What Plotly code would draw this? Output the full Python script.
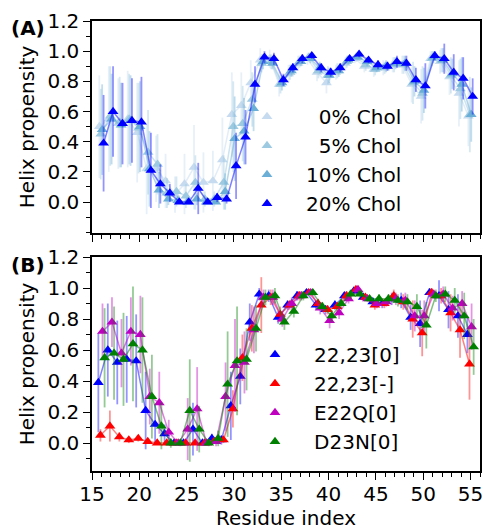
import numpy as np
import plotly.graph_objects as go

# ---------------- data ----------------
residues = list(range(16, 56))

# Panel A: cholesterol series
chol_names = ["0% Chol", "5% Chol", "10% Chol", "20% Chol"]
v0 = [0.50,0.55,0.52,0.55,0.46,0.22,0.22,0.14,0.05,0.12,0.23,0.13,0.14,0.28,0.58,0.64,0.79,0.94,0.95,0.78,
      0.85,0.92,0.95,0.86,0.79,0.86,0.92,0.95,0.90,0.88,0.89,0.91,0.91,0.78,0.70,0.95,0.93,0.83,0.72,0.57]
e0 = [0.34,0.35,0.30,0.32,0.33,0.30,0.22,0.18,0.12,0.20,0.28,0.20,0.20,0.28,0.28,0.22,0.15,0.08,0.06,0.08,
      0.06,0.05,0.04,0.06,0.07,0.05,0.04,0.03,0.04,0.05,0.05,0.05,0.06,0.12,0.18,0.05,0.08,0.12,0.22,0.20]
v5 = [0.45,0.57,0.53,0.55,0.49,0.33,0.25,0.06,0.07,0.04,0.13,0.02,0.02,0.13,0.50,0.52,0.68,0.92,0.93,0.78,
      0.86,0.93,0.96,0.87,0.84,0.87,0.93,0.96,0.91,0.88,0.89,0.91,0.91,0.79,0.72,0.95,0.94,0.84,0.75,0.58]
e5 = [0.30,0.33,0.30,0.30,0.30,0.28,0.20,0.10,0.10,0.08,0.18,0.05,0.05,0.18,0.30,0.25,0.18,0.06,0.05,0.06,
      0.05,0.04,0.03,0.05,0.06,0.05,0.04,0.03,0.04,0.04,0.04,0.05,0.06,0.14,0.18,0.05,0.08,0.12,0.20,0.25]
v10 = [0.48,0.55,0.51,0.54,0.50,0.22,0.08,0.02,0.01,0.00,0.02,0.00,0.00,0.07,0.42,0.47,0.62,0.93,0.92,0.79,
       0.87,0.93,0.95,0.89,0.84,0.87,0.94,0.96,0.93,0.89,0.90,0.92,0.92,0.80,0.74,0.96,0.94,0.85,0.78,0.58]
e10 = [0.30,0.30,0.28,0.30,0.30,0.25,0.12,0.04,0.02,0.01,0.04,0.01,0.01,0.12,0.28,0.22,0.15,0.05,0.04,0.05,
       0.04,0.03,0.03,0.04,0.05,0.04,0.03,0.02,0.03,0.03,0.04,0.04,0.05,0.10,0.15,0.04,0.08,0.10,0.18,0.18]
v20 = [0.39,0.60,0.52,0.54,0.53,0.21,0.12,0.06,0.00,0.00,0.09,0.00,0.03,0.02,0.24,0.43,0.78,0.96,0.95,0.81,
       0.89,0.95,0.97,0.89,0.86,0.89,0.95,0.98,0.94,0.91,0.90,0.93,0.92,0.81,0.77,0.97,0.95,0.86,0.82,0.70]
e20 = [0.32,0.30,0.27,0.28,0.30,0.25,0.13,0.06,0.01,0.01,0.17,0.01,0.03,0.03,0.22,0.18,0.12,0.04,0.04,0.04,
       0.03,0.03,0.02,0.03,0.03,0.03,0.02,0.02,0.02,0.03,0.03,0.04,0.05,0.08,0.15,0.03,0.10,0.12,0.14,0.12]

# Panel B: protonation / mutant series
mut_names = ["22,23[0]", "22,23[-]", "E22Q[0]", "D23N[0]"]
vb, eb = v20, e20
vr = [0.05,0.11,0.04,0.02,0.03,0.01,0.00,0.00,0.00,0.00,0.00,0.00,0.01,0.02,0.22,0.55,0.74,0.89,0.94,0.83,
      0.89,0.95,0.97,0.90,0.86,0.88,0.95,0.99,0.94,0.89,0.90,0.95,0.91,0.80,0.71,0.97,0.95,0.84,0.73,0.51]
er = [0.04,0.10,0.03,0.02,0.02,0.01,0.01,0.01,0.01,0.01,0.01,0.01,0.01,0.02,0.12,0.15,0.15,0.18,0.05,0.05,
      0.03,0.03,0.02,0.03,0.03,0.03,0.03,0.02,0.02,0.03,0.03,0.04,0.05,0.12,0.15,0.03,0.05,0.12,0.18,0.23]
vm = [0.72,0.78,0.58,0.72,0.70,0.30,0.26,0.07,0.00,0.09,0.22,0.00,0.01,0.30,0.50,0.52,0.73,0.94,0.94,0.80,
      0.90,0.95,0.97,0.87,0.79,0.84,0.93,0.99,0.93,0.90,0.91,0.93,0.92,0.82,0.82,0.96,0.96,0.87,0.90,0.75]
em = [0.18,0.16,0.22,0.22,0.25,0.18,0.20,0.08,0.01,0.20,0.27,0.01,0.03,0.22,0.30,0.20,0.15,0.05,0.05,0.05,
      0.04,0.03,0.02,0.04,0.05,0.04,0.03,0.02,0.02,0.03,0.03,0.04,0.05,0.10,0.10,0.03,0.05,0.08,0.08,0.15]
vg = [0.55,0.58,0.54,0.64,0.60,0.30,0.11,0.00,0.00,0.21,0.09,0.00,0.03,0.38,0.53,0.54,0.74,0.94,0.95,0.78,
      0.85,0.95,0.97,0.88,0.82,0.90,0.96,0.96,0.93,0.93,0.93,0.92,0.91,0.88,0.76,0.95,0.96,0.92,0.82,0.62]
eg = [0.32,0.30,0.30,0.37,0.34,0.27,0.15,0.03,0.02,0.33,0.15,0.02,0.05,0.34,0.35,0.20,0.15,0.05,0.05,0.05,
      0.04,0.03,0.02,0.03,0.04,0.03,0.03,0.02,0.02,0.03,0.03,0.04,0.05,0.08,0.15,0.04,0.05,0.08,0.15,0.18]

y_ticks = [0.0, 0.2, 0.4, 0.6, 0.8, 1.0, 1.2]
x_ticks = [15, 20, 25, 30, 35, 40, 45, 50, 55]

# ---------------- style ----------------
FONT = "DejaVu Sans"
FS = 20
chol_colors = [(198, 219, 239), (158, 202, 225), (107, 174, 214), (0, 0, 255)]
mut_colors = [(0, 0, 255), (255, 0, 0), (191, 0, 191), (0, 128, 0)]
offsA = [-0.225, -0.075, 0.075, 0.225]
offsB = [-0.33, -0.11, 0.11, 0.33]

def rgba(c, a):
    return "rgba(%d,%d,%d,%.2f)" % (c[0], c[1], c[2], a)

fig = go.Figure()
NB = "\u00a0"

def add_series(vals, errs, col, off, name, xa, ya, legend, group):
    xs = [r + off for r in residues]
    fig.add_trace(go.Scatter(
        x=xs, y=vals, mode="lines", xaxis=xa, yaxis=ya,
        line=dict(color=rgba(col, 0.5), width=1.5),
        error_y=dict(type="data", array=errs, visible=True, color=rgba(col, 0.42),
                     thickness=1.8, width=0),
        showlegend=False, hoverinfo="skip"))
    fig.add_trace(go.Scatter(
        x=xs, y=vals, mode="markers", xaxis=xa, yaxis=ya, name=name,
        marker=dict(symbol="triangle-up", size=9.5, color=rgba(col, 1.0),
                    line=dict(width=0)),
        legend=legend, legendgroup=group))

a_vals = [v0, v5, v10, v20]
a_errs = [e0, e5, e10, e20]
a_labels = [NB * 5 + chol_names[0], NB * 5 + chol_names[1], NB * 3 + chol_names[2], NB * 3 + chol_names[3]]
for i in range(4):
    add_series(a_vals[i], a_errs[i], chol_colors[i], offsA[i], a_labels[i], "x2", "y2", "legend", "a%d" % i)

b_vals = [vb, vr, vm, vg]
b_errs = [eb, er, em, eg]
for i in range(4):
    add_series(b_vals[i], b_errs[i], mut_colors[i], offsB[i], NB * 3 + mut_names[i], "x", "y", "legend2", "b%d" % i)

L, R, T, B = 92, 3, 21, 59
W, H = 483, 530
ph = H - T - B

def fy(py):
    return (H - B - py) / ph

def fx(px):
    return (px - L) / (W - L - R)

axis_common = dict(showline=True, linecolor="black", linewidth=1.5, mirror=True,
                   ticks="outside", ticklen=7, tickwidth=1.3, tickcolor="black",
                   showgrid=False, zeroline=False, automargin=False,
                   ticklabeloverflow="allow",
                   tickfont=dict(family=FONT, size=FS, color="black"))

xcommon = dict(axis_common, range=[15, 56], tickmode="array", tickvals=x_ticks,
               minor=dict(dtick=1, tick0=15, ticks="outside", ticklen=4, tickwidth=1, tickcolor="black"))
ycommon = dict(axis_common, tickmode="array", tickvals=y_ticks, tickformat=".1f",
               minor=dict(tickmode="array", tickvals=[-0.2, -0.1, 0.1, 0.3, 0.5, 0.7, 0.9, 1.1],
                          ticks="outside", ticklen=4, tickwidth=1, tickcolor="black"))

fig.update_layout(
    width=W, height=H, margin=dict(l=L, r=R, t=T, b=B),
    paper_bgcolor="white", plot_bgcolor="white",
    font=dict(family=FONT, size=FS, color="black"),
    xaxis=dict(xcommon, anchor="y", domain=[0, 1], ticklabelstandoff=-3,
               title=dict(text="Residue index", font=dict(family=FONT, size=FS), standoff=15)),
    xaxis2=dict(xcommon, anchor="y2", domain=[0, 1], matches="x", showticklabels=False),
    yaxis=dict(ycommon, anchor="x", domain=[0, fy(257)], range=[-0.18, 1.2],
               title=dict(text="Helix propensity", font=dict(family=FONT, size=FS), standoff=7)),
    yaxis2=dict(ycommon, anchor="x2", domain=[fy(233), 1], range=[-0.205, 1.2],
                title=dict(text="Helix propensity", font=dict(family=FONT, size=FS), standoff=7)),
    legend=dict(x=fx(247), y=fy(97), xanchor="left", yanchor="top",
                bgcolor="rgba(0,0,0,0)", borderwidth=0,
                font=dict(family=FONT, size=FS, color="black"),
                traceorder="grouped", tracegroupgap=0, itemwidth=30),
    legend2=dict(x=fx(255), y=fy(335), xanchor="left", yanchor="top",
                 bgcolor="rgba(0,0,0,0)", borderwidth=0,
                 font=dict(family=FONT, size=FS, color="black"),
                 traceorder="grouped", tracegroupgap=0, itemwidth=30),
    annotations=[
        dict(text="<b>(A)</b>", x=fx(28), y=fy(28), xref="paper", yref="paper",
             xanchor="center", yanchor="middle",
             showarrow=False, font=dict(family=FONT, size=FS, color="black")),
        dict(text="<b>(B)</b>", x=fx(28), y=fy(265), xref="paper", yref="paper",
             xanchor="center", yanchor="middle",
             showarrow=False, font=dict(family=FONT, size=FS, color="black")),
    ],
)

fig.write_html("out.html", config={"displayModeBar": False},
               post_script="document.body.style.margin='0';document.body.style.padding='0';")
